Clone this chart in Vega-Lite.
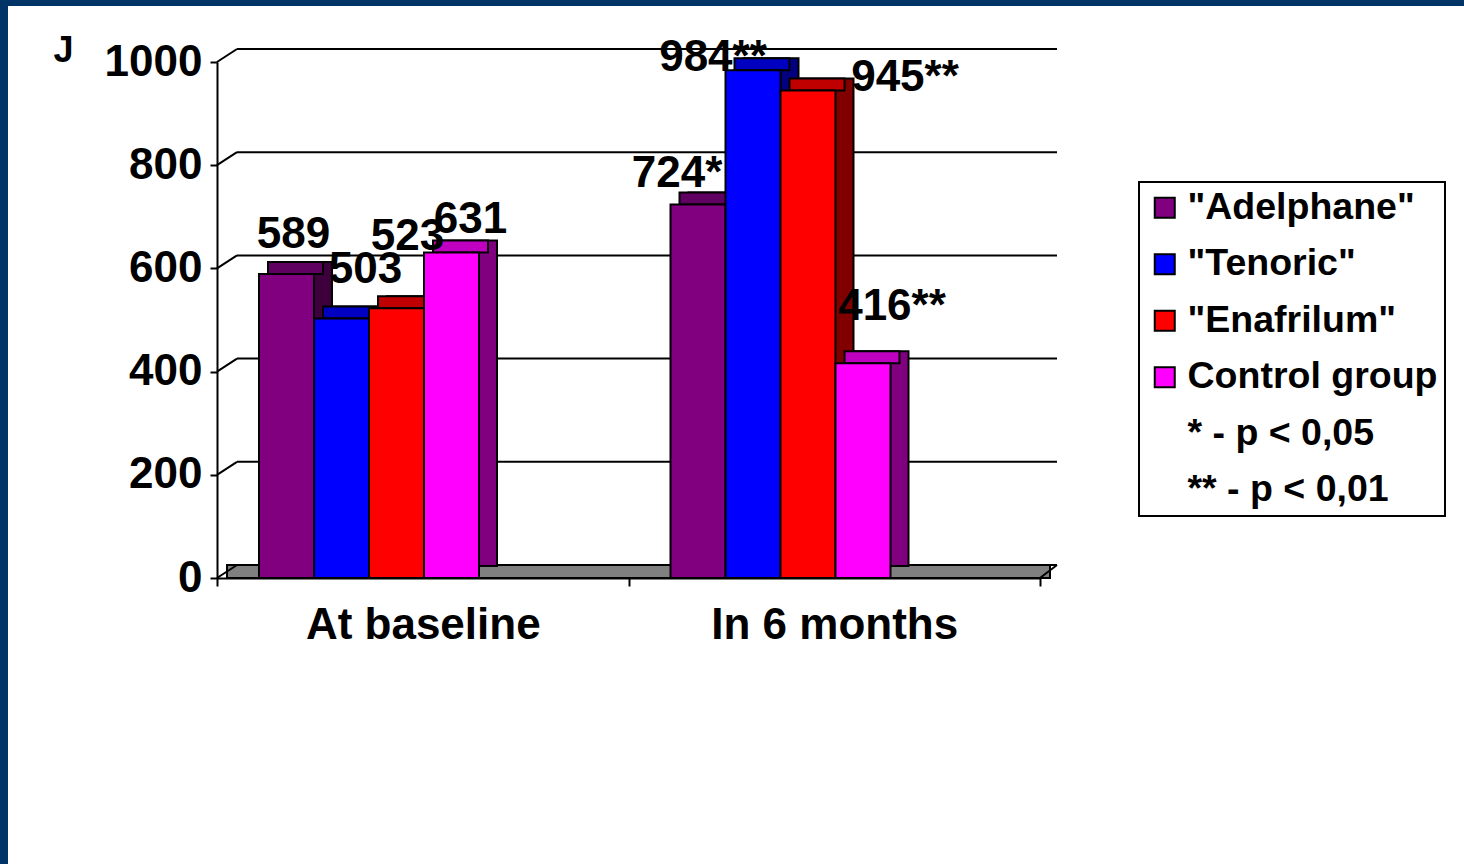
{
  "$schema": "https://vega.github.io/schema/vega-lite/v6.json",
  "width": 1456,
  "height": 858,
  "autosize": {"type": "none"},
  "padding": {"left": 8, "top": 6, "right": 0, "bottom": 0},
  "background": "#003366",
  "datasets": {
    "bars": [
      {"group": "At baseline", "drug": "\"Adelphane\"", "value": 589, "label": "589"},
      {"group": "At baseline", "drug": "\"Tenoric\"", "value": 503, "label": "503"},
      {"group": "At baseline", "drug": "\"Enafrilum\"", "value": 523, "label": "523"},
      {"group": "At baseline", "drug": "Control group", "value": 631, "label": "631"},
      {"group": "In 6 months", "drug": "\"Adelphane\"", "value": 724, "label": "724*"},
      {"group": "In 6 months", "drug": "\"Tenoric\"", "value": 984, "label": "984**"},
      {"group": "In 6 months", "drug": "\"Enafrilum\"", "value": 945, "label": "945**"},
      {"group": "In 6 months", "drug": "Control group", "value": 416, "label": "416**"}
    ],
    "grid": [{"v": 0}, {"v": 200}, {"v": 400}, {"v": 600}, {"v": 800}, {"v": 1000}]
  },
  "layer": [
    {
      "data": {"name": "grid"},
      "layer": [
        {
          "transform": [{"filter": "datum.v == 0"}],
          "mark": {"type": "rect", "fill": "#808080", "stroke": "black", "strokeWidth": 2, "xOffset": 10, "x2Offset": 10, "y2Offset": -13},
          "encoding": {
            "x": {"datum": 0, "type": "quantitative", "scale": {"domain": [0, 1], "range": [209, 1032]}, "axis": null},
            "x2": {"datum": 1},
            "y": {"field": "v", "type": "quantitative", "scale": {"domain": [0, 1000], "range": [572, 56], "nice": false}},
            "y2": {"field": "v"}
          }
        },
        {
          "mark": {"type": "rule", "stroke": "black", "strokeWidth": 2, "xOffset": 20, "x2Offset": 17, "yOffset": -13},
          "encoding": {
            "x": {"datum": 0, "type": "quantitative", "scale": {"domain": [0, 1], "range": [209, 1032]}, "axis": null},
            "x2": {"datum": 1},
            "y": {"field": "v", "type": "quantitative", "scale": {"domain": [0, 1000], "range": [572, 56], "nice": false}}
          }
        },
        {
          "mark": {"type": "rule", "stroke": "black", "strokeWidth": 2, "x2Offset": 20, "y2Offset": -13},
          "encoding": {
            "x": {"datum": 0, "type": "quantitative", "scale": {"domain": [0, 1], "range": [209, 1032]}, "axis": null},
            "x2": {"datum": 0},
            "y": {"field": "v", "type": "quantitative", "scale": {"domain": [0, 1000], "range": [572, 56], "nice": false}},
            "y2": {"field": "v"}
          }
        },
        {
          "transform": [{"filter": "datum.v == 0"}],
          "mark": {"type": "rule", "stroke": "black", "strokeWidth": 2, "x2Offset": 17, "y2Offset": -13},
          "encoding": {
            "x": {"datum": 1, "type": "quantitative", "scale": {"domain": [0, 1], "range": [209, 1032]}, "axis": null},
            "x2": {"datum": 1},
            "y": {"field": "v", "type": "quantitative", "scale": {"domain": [0, 1000], "range": [572, 56], "nice": false}},
            "y2": {"field": "v"}
          }
        }
      ]
    },
    {
      "data": {"name": "bars"},
      "encoding": {
        "x": {
          "field": "group", "type": "nominal",
          "scale": {"type": "band", "domain": ["At baseline", "In 6 months"], "range": [209, 1032], "paddingInner": 0, "paddingOuter": 0},
          "axis": {
            "orient": "bottom", "offset": -286, "title": null, "labelAngle": 0, "labelLimit": 600,
            "domainColor": "black", "domainWidth": 2, "tickColor": "black", "tickWidth": 2, "tickSize": 8, "tickBand": "extent",
            "labelFont": "Liberation Sans", "labelFontSize": 44, "labelFontWeight": "bold", "labelColor": "black", "labelPadding": 17, "grid": false
          }
        },
        "y": {
          "field": "value", "type": "quantitative",
          "scale": {"domain": [0, 1000], "range": [572, 56], "nice": false},
          "axis": {
            "orient": "left", "offset": -209, "values": [0, 200, 400, 600, 800, 1000], "format": "d", "grid": false,
            "domainColor": "black", "domainWidth": 2, "tickColor": "black", "tickWidth": 2, "tickSize": 7,
            "labelFont": "Liberation Sans", "labelFontSize": 44, "labelFontWeight": "bold", "labelColor": "black", "labelPadding": 8,
            "title": "J", "titleAngle": 0, "titleX": -154, "titleY": 44, "titleAlign": "center", "titleBaseline": "middle",
            "titleFont": "Liberation Sans", "titleFontSize": 36, "titleFontWeight": "bold", "titleColor": "black"
          }
        }
      },
      "layer": [
        {
          "mark": {"type": "bar", "stroke": "black", "strokeWidth": 2, "yOffset": -12, "y2Offset": -12},
          "encoding": {
            "xOffset": {"field": "drug", "type": "nominal",
              "scale": {"domain": ["\"Adelphane\"", "\"Tenoric\"", "\"Enafrilum\"", "Control group"], "range": [60, 280], "paddingInner": 0, "paddingOuter": 0}},
            "fill": {"field": "drug", "type": "nominal", "legend": null,
              "scale": {"domain": ["\"Adelphane\"", "\"Tenoric\"", "\"Enafrilum\"", "Control group"], "range": ["#3d003d", "#000080", "#800000", "#800080"]}}
          }
        },
        {
          "mark": {"type": "bar", "stroke": "black", "strokeWidth": 2, "yOffset": -12},
          "encoding": {
            "xOffset": {"field": "drug", "type": "nominal",
              "scale": {"domain": ["\"Adelphane\"", "\"Tenoric\"", "\"Enafrilum\"", "Control group"], "range": [51, 271], "paddingInner": 0, "paddingOuter": 0}},
            "y2": {"field": "value"},
            "fill": {"field": "drug", "type": "nominal", "legend": null,
              "scale": {"domain": ["\"Adelphane\"", "\"Tenoric\"", "\"Enafrilum\"", "Control group"], "range": ["#600060", "#0000c0", "#c00000", "#c000c0"]}}
          }
        },
        {
          "mark": {"type": "bar", "stroke": "black", "strokeWidth": 2, "opacity": 1},
          "encoding": {
            "xOffset": {"field": "drug", "type": "nominal",
              "scale": {"domain": ["\"Adelphane\"", "\"Tenoric\"", "\"Enafrilum\"", "Control group"], "range": [42, 262], "paddingInner": 0, "paddingOuter": 0}},
            "color": {
              "field": "drug", "type": "nominal",
              "scale": {
                "domain": ["\"Adelphane\"", "\"Tenoric\"", "\"Enafrilum\"", "Control group", "* - p < 0,05", "** - p < 0,01"],
                "range": ["#800080", "#0000ff", "#ff0000", "#ff00ff", "transparent", "transparent"]
              },
              "legend": {
                "title": null, "orient": "none", "legendX": 1131, "legendY": 176, "padding": 7,
                "strokeColor": "black", "fillColor": "white",
                "labelFont": "Liberation Sans", "labelFontSize": 37.5, "labelFontWeight": "bold", "labelColor": "black", "labelLimit": 400,
                "labelOffset": 4, "rowPadding": 17.5, "symbolType": "square", "symbolSize": 400,
                "symbolStrokeColor": "black", "symbolStrokeWidth": 2, "symbolOpacity": 1,
                "encode": {
                  "symbols": {"update": {"strokeOpacity": {"signal": "indexof(datum.value, 'p <') >= 0 ? 0 : 1"}}},
                  "legend": {"update": {"strokeWidth": {"value": 2}}}
                }
              }
            }
          }
        },
        {
          "layer": [
            {"transform": [{"filter": "datum.label == '589'"}], "mark": {"type": "text", "dx": 7, "dy": -26}},
            {"transform": [{"filter": "datum.label == '503'"}], "mark": {"type": "text", "dx": 24, "dy": -35}},
            {"transform": [{"filter": "datum.label == '523'"}], "mark": {"type": "text", "dx": 11, "dy": -58}},
            {"transform": [{"filter": "datum.label == '631'"}], "mark": {"type": "text", "dx": 19, "dy": -19}},
            {"transform": [{"filter": "datum.label == '724*'"}], "mark": {"type": "text", "dx": -21, "dy": -17}},
            {"transform": [{"filter": "datum.label == '984**'"}], "mark": {"type": "text", "dx": -40, "dy": 1}},
            {"transform": [{"filter": "datum.label == '945**'"}], "mark": {"type": "text", "dx": 97, "dy": 1}},
            {"transform": [{"filter": "datum.label == '416**'"}], "mark": {"type": "text", "dx": 29, "dy": -43}}
          ],
          "encoding": {
            "xOffset": {"field": "drug", "type": "nominal",
              "scale": {"type": "point", "domain": ["\"Adelphane\"", "\"Tenoric\"", "\"Enafrilum\"", "Control group"], "range": [69.5, 234.5], "padding": 0}},
            "text": {"field": "label"}
          }
        }
      ],
      "resolve": {"scale": {"fill": "independent", "xOffset": "independent"}}
    }
  ],
  "config": {
    "view": {"fill": "white", "stroke": null},
    "font": "Liberation Sans",
    "text": {"font": "Liberation Sans", "fontSize": 44, "fontWeight": "bold", "color": "black", "align": "center", "baseline": "alphabetic"}
  },
  "resolve": {"scale": {"x": "independent"}}
}
